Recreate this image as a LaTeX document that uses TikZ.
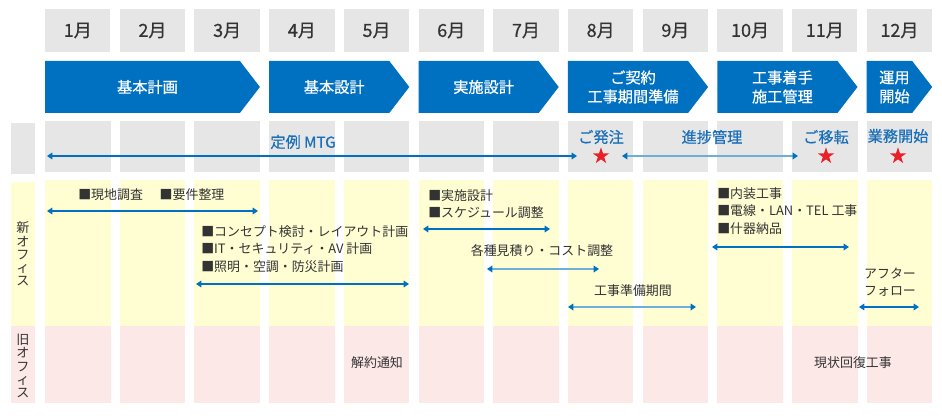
\documentclass[tikz,border=0pt]{standalone}
\usepackage{fontspec}
\setmainfont{Noto Sans CJK JP}
\newfontfamily\medfont{Noto Sans CJK JP}[FakeBold=0.6]
\usetikzlibrary{arrows.meta,shapes.geometric}
\definecolor{planblue}{HTML}{0070C0}
\definecolor{paleblue}{HTML}{6FAED8}
\definecolor{labelblue}{HTML}{1A6FB8}
\definecolor{cellgray}{HTML}{E6E6E6}
\definecolor{newyellow}{HTML}{FFFDD2}
\definecolor{oldpink}{HTML}{FDE8E8}
\definecolor{inkgray}{HTML}{333333}
\definecolor{starred}{HTML}{E8202A}

\begin{document}
\begin{tikzpicture}
[x=0.75pt,y=-0.75pt,
monthcell/.style={rectangle, fill=cellgray, text=inkgray,
minimum width=49.1pt, minimum height=32.25pt,
font=\medfont\fontsize{13.5}{14}\selectfont},
bannertext/.style={text=white, align=center,
font=\medfont\fontsize{11.4}{14.25}\selectfont},
bluelabel/.style={text=labelblue, inner sep=1pt,
font=\medfont\fontsize{11.4}{13}\selectfont},
tasktext/.style={text=inkgray, align=left, inner sep=0pt,
font=\fontsize{9.7}{13.1}\selectfont},
sidetext/.style={text=inkgray, align=center, inner sep=0pt,
font=\fontsize{9.8}{9.9}\selectfont},
starmark/.style={star, star points=5, star point ratio=2.6,
fill=starred, inner sep=0pt, minimum size=13pt},
spanline/.style={draw=planblue, line width=0.8pt,
{Triangle[length=4pt,width=5pt]}-{Triangle[length=4pt,width=5pt]}},
spanlight/.style={draw=paleblue, line width=1.5pt,
{Triangle[length=4pt,width=5pt,color=planblue]}-{Triangle[length=4pt,width=5pt,color=planblue]}}]
\useasboundingbox (0,0) rectangle (942,416);
% left side column
\fill[cellgray] (11,123) rectangle (35,174);
\fill[newyellow] (11,182) rectangle (35,326);
\fill[oldpink] (11,326) rectangle (35,403);
% one column per month
\foreach \i [evaluate=\i as \xl using 45+74.7*(\i-1)] in {1,...,12}{
\node [monthcell] (m\i) at ({\xl+32.75},30.5) {{\i}月};
\fill[cellgray] (\xl,121) rectangle ++(65.5,51);
\fill[newyellow] (\xl,180) rectangle ++(65.5,146);
\fill[oldpink] (\xl,326) rectangle ++(65.5,77);
}
% phase banners
\foreach \a/\b/\t in {1/3/{基本計画}, 4/5/{基本設計}, 6/7/{実施設計},
8/9/{ご契約\\工事期間準備}, 10/11/{工事着手\\施工管理}, 12/12/{運用\\開始}}{
\pgfmathsetmacro\xa{45+74.7*(\a-1)}
\pgfmathsetmacro\xb{45+74.7*(\b-1)+65.5}
\fill[planblue] (\xa,61) -- ({\xb-20},61) -- (\xb,87) -- ({\xb-20},113) -- (\xa,113) -- cycle;
\node [bannertext] (ph\a) at ({(\xa+\xb-10)/2},87) {\t};
}
% meeting row
\node [bluelabel] (mtg) at (303,142) {定例 MTG};
\node [bluelabel] (order) at (601,137) {ご発注};
\node [bluelabel] (progress) at (712,137) {進捗管理};
\node [bluelabel] (move) at (826,137) {ご移転};
\node [bluelabel] (open) at (898,136) {業務開始};
\node [starmark] (s8) at (601,156) {};
\node [starmark] (s11) at (826,156) {};
\node [starmark] (s12) at (898,156) {};
\coordinate (mtgL) at (47,156);
\coordinate (mtgR) at (577,156);
\coordinate (progL) at (622,156);
\coordinate (progR) at (798,156);
\path [spanline] (mtgL) -- (mtgR);
\path [spanlight] (progL) -- (progR);
% new office
\node [sidetext] (newoff) at (23,254) {新\\オ\\フ\\ィ\\ス};
\node [tasktext, anchor=west] (survey) at (78,195) {■現地調査\hspace{1.3em}■要件整理};
\node [tasktext, anchor=west] (concept) at (201,249)
{■コンセプト検討・レイアウト計画\\■IT・セキュリティ・AV 計画\\■照明・空調・防災計画};
\node [tasktext, anchor=west] (detail) at (428,204) {■実施設計\\■スケジュール調整};
\node [tasktext] (estimate) at (542,251) {各種見積り・コスト調整};
\node [tasktext] (prep) at (633,291) {工事準備期間};
\node [tasktext, anchor=west] (works) at (717,211) {■内装工事\\■電線・LAN・TEL 工事\\■什器納品};
\node [tasktext, align=center] (follow) at (890,282) {アフター\\フォロー};
\coordinate (surveyL) at (47,211);
\coordinate (surveyR) at (258,211);
\coordinate (conceptL) at (196,284);
\coordinate (conceptR) at (409,284);
\coordinate (detailL) at (423,229);
\coordinate (detailR) at (550,229);
\coordinate (estimateL) at (487,269);
\coordinate (estimateR) at (599,269);
\coordinate (prepL) at (568,307);
\coordinate (prepR) at (696,307);
\coordinate (worksL) at (712,247);
\coordinate (worksR) at (849,247);
\coordinate (followL) at (859,307);
\coordinate (followR) at (919,307);
\path [spanline] (surveyL) -- (surveyR);
\path [spanline] (conceptL) -- (conceptR);
\path [spanline] (detailL) -- (detailR);
\path [spanlight] (estimateL) -- (estimateR);
\path [spanlight] (prepL) -- (prepR);
\path [spanline] (worksL) -- (worksR);
\path [spanline] (followL) -- (followR);
% old office
\node [sidetext] (oldoff) at (23,366) {旧\\オ\\フ\\ィ\\ス};
\node [tasktext] (notice) at (377,363) {解約通知};
\node [tasktext] (restore) at (853,363) {現状回復工事};
\end{tikzpicture}
\end{document}
